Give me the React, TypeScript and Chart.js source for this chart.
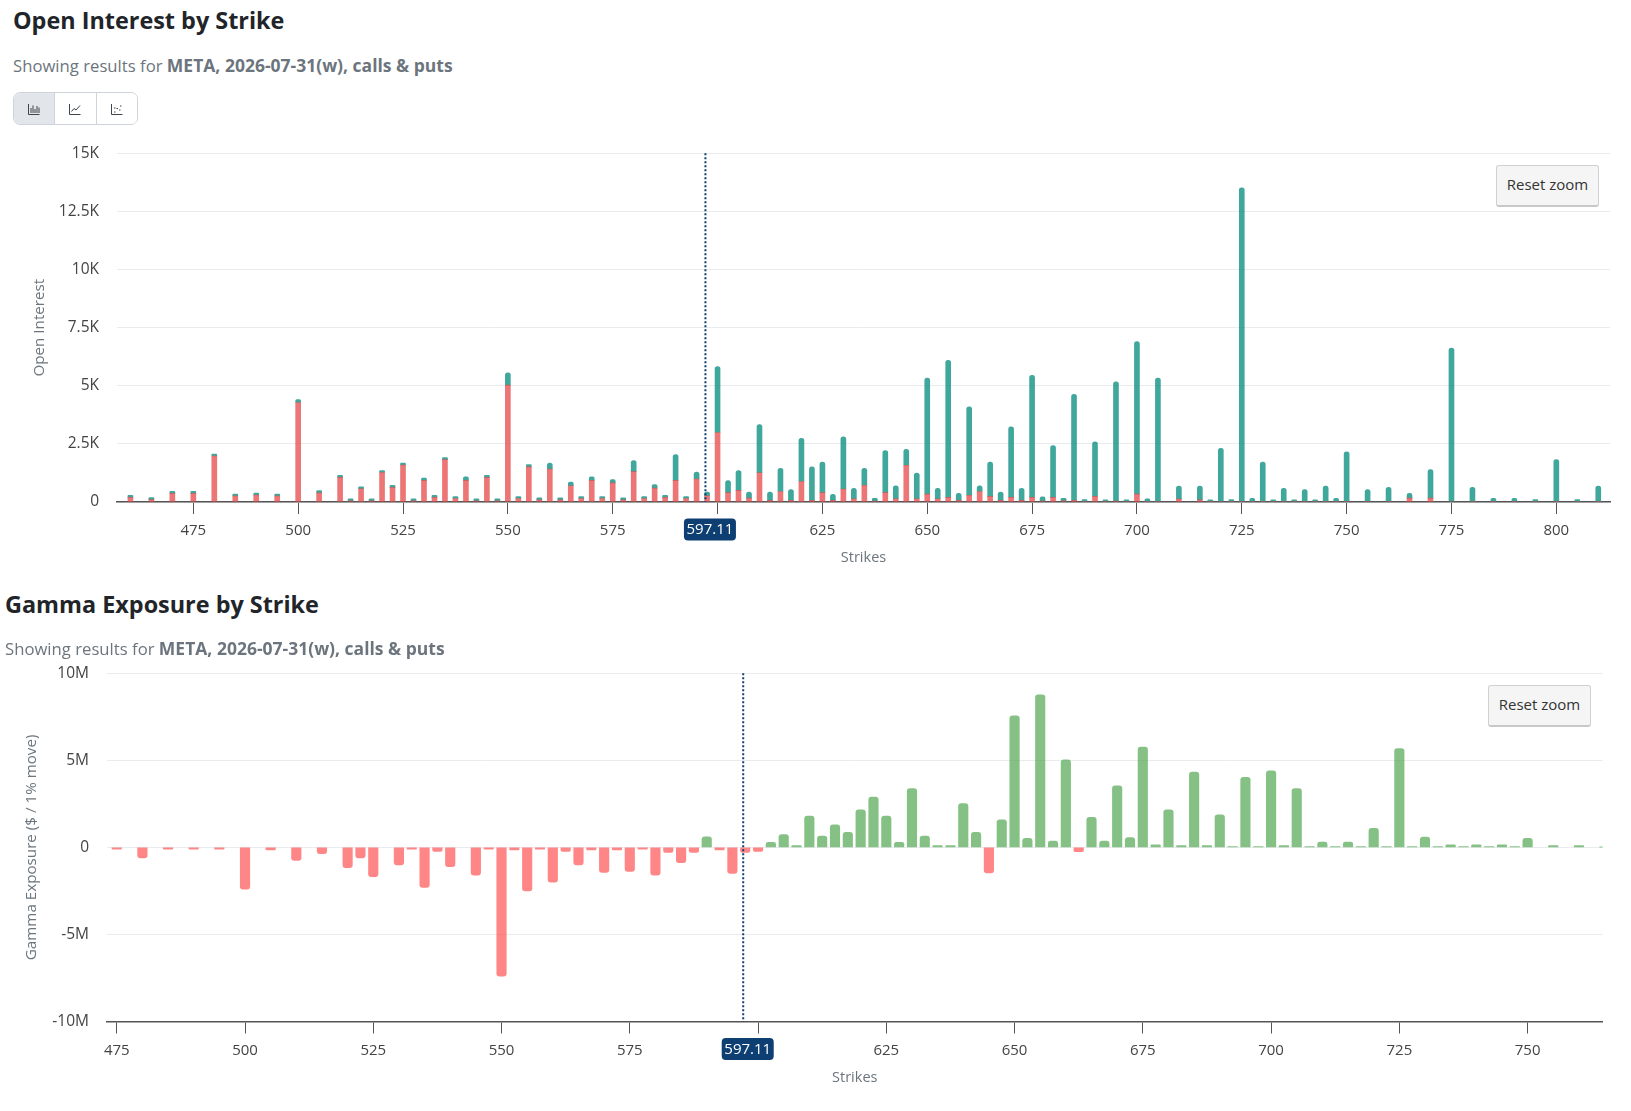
import React, { useEffect, useRef } from 'react';
import { Chart, registerables } from 'chart.js';

Chart.register(...registerables);

const FONT = '"Open Sans", sans-serif';
const spotPrice = 597.11;

// open interest chart
const oiStrikes = [
  460, 465, 470, 475, 480, 485, 490, 495, 500, 505,
  510, 512.5, 515, 517.5, 520, 522.5, 525, 527.5, 530, 532.5,
  535, 537.5, 540, 542.5, 545, 547.5, 550, 552.5, 555, 557.5,
  560, 562.5, 565, 567.5, 570, 572.5, 575, 577.5, 580, 582.5,
  585, 587.5, 590, 592.5, 595, 597.5, 600, 602.5, 605, 607.5,
  610, 612.5, 615, 617.5, 620, 622.5, 625, 627.5, 630, 632.5,
  635, 637.5, 640, 642.5, 645, 647.5, 650, 652.5, 655, 657.5,
  660, 662.5, 665, 667.5, 670, 672.5, 675, 677.5, 680, 682.5,
  685, 687.5, 690, 692.5, 695, 697.5, 700, 702.5, 705, 710,
  715, 717.5, 720, 722.5, 725, 727.5, 730, 732.5, 735, 737.5,
  740, 742.5, 745, 747.5, 750, 755, 760, 765, 770, 775,
  780, 785, 790, 795, 800, 805, 810,
];
const oiPuts = [
  200, 100, 370, 370, 1980, 260, 300, 260, 4280, 390,
  1060, 50, 570, 50, 1270, 630, 1590, 50, 930, 200,
  1820, 150, 930, 50, 1060, 50, 5030, 150, 1510, 90,
  1420, 90, 700, 150, 930, 150, 820, 90, 1310, 150,
  600, 200, 930, 150, 990, 270, 2990, 400, 500, 170,
  1260, 70, 450, 70, 880, 70, 400, 70, 560, 140,
  720, 40, 400, 140, 1580, 140, 340, 140, 200, 70,
  290, 450, 240, 70, 200, 70, 200, 40, 200, 50,
  70, 10, 240, 10, 40, 10, 340, 10, 30, 130,
  90, 10, 20, 10, 30, 10, 10, 10, 10, 10,
  10, 10, 10, 10, 10, 10, 10, 170, 170, 20,
  10, 10, 10, 10, 10, 10, 10,
];
const oiCalls = [
  20, 10, 20, 20, 20, 10, 20, 10, 130, 100,
  20, 10, 20, 10, 20, 20, 20, 10, 100, 20,
  20, 10, 150, 10, 20, 10, 530, 10, 100, 10,
  250, 10, 160, 10, 150, 10, 140, 10, 470, 10,
  150, 20, 1110, 10, 300, 160, 2830, 520, 850, 260,
  2070, 360, 1000, 460, 1860, 1440, 1320, 260, 2240, 450,
  730, 120, 1810, 560, 690, 1100, 4990, 450, 5890, 300,
  3800, 250, 1480, 360, 3030, 520, 5250, 180, 2230, 110,
  4560, 90, 2350, 30, 5130, 30, 6560, 130, 5300, 560,
  600, 50, 2290, 90, 13490, 150, 1710, 50, 580, 50,
  520, 50, 680, 150, 2150, 520, 620, 200, 1220, 6600,
  620, 150, 150, 90, 1810, 90, 680,
];
const oiTicks = [475, 500, 525, 550, 575, 600, 625, 650, 675, 700, 725, 750, 775, 800];

// gamma exposure chart, values in millions
const gexStrikes = [
  475, 480, 485, 490, 495, 500, 505, 510, 515, 520,
  522.5, 525, 530, 532.5, 535, 537.5, 540, 545, 547.5, 550,
  552.5, 555, 557.5, 560, 562.5, 565, 567.5, 570, 572.5, 575,
  577.5, 580, 582.5, 585, 587.5, 590, 592.5, 595, 597.5, 600,
  602.5, 605, 607.5, 610, 612.5, 615, 617.5, 620, 622.5, 625,
  627.5, 630, 632.5, 635, 637.5, 640, 642.5, 645, 647.5, 650,
  652.5, 655, 657.5, 660, 662.5, 665, 667.5, 670, 672.5, 675,
  677.5, 680, 682.5, 685, 687.5, 690, 692.5, 695, 697.5, 700,
  702.5, 705, 707.5, 710, 712.5, 715, 717.5, 720, 722.5, 725,
  727.5, 730, 732.5, 735, 737.5, 740, 742.5, 745, 747.5, 750,
  755, 760, 765,
];
const gexValues = [
  -0.1, -0.6, -0.1, -0.1, -0.1, -2.4, -0.15, -0.75, -0.36, -1.17,
  -0.6, -1.68, -1.0, -0.1, -2.3, -0.23, -1.1, -1.6, -0.1, -7.4,
  -0.15, -2.5, -0.1, -2.0, -0.23, -1.0, -0.15, -1.43, -0.15, -1.38,
  -0.1, -1.6, -0.29, -0.88, -0.29, 0.6, -0.15, -1.5, -0.29, -0.23,
  0.29, 0.73, 0.1, 1.8, 0.65, 1.3, 0.86, 2.16, 2.89, 1.8,
  0.29, 3.38, 0.65, 0.1, 0.1, 2.52, 0.86, -1.47, 1.59, 7.55,
  0.52, 8.76, 0.36, 5.03, -0.25, 1.72, 0.36, 3.54, 0.57, 5.76,
  0.15, 2.16, 0.1, 4.32, 0.1, 1.87, 0.04, 4.03, 0.04, 4.4,
  0.1, 3.38, 0.04, 0.31, 0.04, 0.31, 0.04, 1.09, 0.04, 5.68,
  0.04, 0.59, 0.04, 0.15, 0.04, 0.15, 0.04, 0.15, 0.04, 0.52,
  0.1, 0.1, 0.02,
];
const gexTicks = [475, 500, 525, 550, 575, 600, 625, 650, 675, 700, 725, 750];

// dotted spot line with its badge under the axis
const spotPlugin = {
  id: 'spotLine',
  afterDatasetsDraw(chart: any) {
    const { ctx, chartArea, scales } = chart;
    const x = scales.x.getPixelForValue(spotPrice);
    ctx.save();
    ctx.strokeStyle = '#0d3f73';
    ctx.lineWidth = 2;
    ctx.setLineDash([2, 2]);
    ctx.beginPath();
    ctx.moveTo(x, chartArea.top);
    ctx.lineTo(x, chartArea.bottom);
    ctx.stroke();
    ctx.setLineDash([]);
    ctx.fillStyle = '#0d3f73';
    ctx.beginPath();
    ctx.roundRect(x - 21.5, chartArea.bottom + 16.5, 52, 22, 4);
    ctx.fill();
    ctx.fillStyle = '#ffffff';
    ctx.font = `15px ${FONT}`;
    ctx.textAlign = 'center';
    ctx.textBaseline = 'middle';
    ctx.fillText(String(spotPrice), x + 4.5, chartArea.bottom + 28);
    ctx.restore();
  },
};

const xTickFont = { family: FONT, size: 15 };
const yTickFont = { family: FONT, size: 15.5 };
const titleFont = { family: FONT, size: 14.5 };
const yTitleFont = { family: FONT, size: 15.2 };

function xAxis(min: number, max: number, ticks: number[], height: number, titleBottom: number) {
  return {
    type: 'linear',
    stacked: true,
    offset: false,
    min,
    max,
    afterBuildTicks: (scale: any) => {
      scale.ticks = ticks.map(value => ({ value }));
    },
    afterFit: (scale: any) => {
      scale.height = height;
    },
    grid: { offset: false, drawOnChartArea: false, color: '#555', tickLength: 12, tickColor: '#555' },
    border: { color: '#555', width: 1.5 },
    ticks: {
      color: '#444',
      font: xTickFont,
      padding: 8,
      autoSkip: false,
      maxRotation: 0,
      callback: (v: any) => (v === 600 ? '' : String(v)),
    },
    title: { display: true, text: 'Strikes', color: '#6c757d', font: titleFont, padding: { top: 0, bottom: titleBottom } },
  };
}

function yAxis(min: number, max: number, step: number, width: number, label: string, titleTop: number, fmt: (v: number) => string, stacked: boolean) {
  return {
    stacked,
    min,
    max,
    afterFit: (scale: any) => {
      scale.width = width;
    },
    grid: { color: '#e9ecef', drawTicks: false },
    border: { display: false },
    ticks: { stepSize: step, color: '#444', font: yTickFont, padding: 18, callback: (v: any) => fmt(Number(v)) },
    title: { display: true, text: label, color: '#6c757d', font: yTitleFont, padding: { top: titleTop, bottom: 0 } },
  };
}

const IconBars = () => (
  <svg width="12" height="12" viewBox="0 0 12 12" fill="none" stroke="#3d444b" strokeWidth="1">
    <path d="M0.5 1v10.5h11M3 10V5M5 10V2.5M7 10V6M9 10V3M11 10V4.5" />
  </svg>
);
const IconLine = () => (
  <svg width="12" height="12" viewBox="0 0 12 12" fill="none" stroke="#3d444b" strokeWidth="1">
    <path d="M0.5 1v10.5h11M2.5 8.5L5 5.5l2 1.5L11 2.5" />
  </svg>
);
const IconDots = () => (
  <svg width="12" height="12" viewBox="0 0 12 12" fill="none" stroke="#3d444b" strokeWidth="1">
    <path d="M0.5 1v10.5h11M3 9h1.5M5.5 5.5h1.5M8 7h1.5M9 3h1.5M3 5h1.5" />
  </svg>
);

const h2Style = (left: number, top: number): React.CSSProperties => ({
  position: 'absolute', left, top, margin: 0, font: `700 23.4px/32px ${FONT}`, color: '#212529', whiteSpace: 'nowrap',
});
const subStyle = (left: number, top: number): React.CSSProperties => ({
  position: 'absolute', left, top, margin: 0, font: `400 16.7px/24px ${FONT}`, color: '#6c757d', whiteSpace: 'nowrap',
});
const resetStyle = (left: number, top: number): React.CSSProperties => ({
  position: 'absolute', left, top, width: 103, height: 42, padding: '0 0 4px', background: '#f5f5f5', border: '1px solid #d0d0d0',
  borderBottom: '2px solid #c8c8c8', borderRadius: 3, font: `400 15px ${FONT}`, color: '#333',
});
const segStyle = (active: boolean, last: boolean): React.CSSProperties => ({
  width: 41, height: '100%', display: 'flex', alignItems: 'center', justifyContent: 'center',
  background: active ? '#e2e5e9' : '#fff', borderRight: last ? 'none' : '1px solid #ced4da',
});
const boldStyle: React.CSSProperties = { fontSize: 17.5 };

const App: React.FC = () => {
  const oiRef = useRef<HTMLCanvasElement>(null);
  const gexRef = useRef<HTMLCanvasElement>(null);

  useEffect(() => {
    const oiChart = new Chart(oiRef.current!, {
      type: 'bar',
      data: {
        datasets: [
          {
            label: 'Puts',
            data: oiStrikes.map((x, i) => ({ x, y: oiPuts[i] })),
            backgroundColor: 'rgba(229, 72, 72, 0.75)',
            barThickness: 5,
            borderRadius: 0,
            borderSkipped: false,
          },
          {
            label: 'Calls',
            data: oiStrikes.map((x, i) => ({ x, y: oiCalls[i] })),
            backgroundColor: 'rgba(0, 137, 123, 0.75)',
            barThickness: 5,
            minBarLength: 2,
            borderRadius: { topLeft: 2.5, topRight: 2.5 },
            borderSkipped: false,
          },
        ],
      },
      options: {
        responsive: false,
        animation: false,
        layout: { padding: { top: 0, right: 21 } },
        plugins: { legend: { display: false }, tooltip: { enabled: false } },
        scales: {
          x: xAxis(456.8, 812.8, oiTicks, 78, 13),
          y: yAxis(0, 15000, 2500, 117, 'Open Interest', 31, v => (v === 0 ? '0' : `${v / 1000}K`), true),
        },
      } as any,
      plugins: [spotPlugin],
    });

    const gexChart = new Chart(gexRef.current!, {
      type: 'bar',
      data: {
        datasets: [
          {
            label: 'Gamma Exposure',
            data: gexStrikes.map((x, i) => ({ x, y: gexValues[i] })),
            backgroundColor: (c: any) => (gexValues[c.dataIndex] < 0 ? 'rgba(255, 82, 82, 0.7)' : 'rgba(81, 166, 81, 0.7)'),
            barThickness: 9.5,
            borderRadius: 3,
          },
        ],
      },
      options: {
        responsive: false,
        animation: false,
        layout: { padding: { top: 0, right: 28.5 } },
        plugins: { legend: { display: false }, tooltip: { enabled: false } },
        scales: {
          x: xAxis(473.1, 764.6, gexTicks, 78.5, 13),
          y: yAxis(-10, 10, 5, 107, 'Gamma Exposure ($ / 1% move)', 23, v => (v === 0 ? '0' : `${v}M`), false),
        },
      } as any,
      plugins: [spotPlugin],
    });

    return () => {
      oiChart.destroy();
      gexChart.destroy();
    };
  }, []);

  return (
    <div style={{ position: 'absolute', left: 0, top: 0, width: 1631, height: 1111, overflow: 'hidden', background: '#fff' }}>
      <canvas ref={oiRef} width={1631} height={454} style={{ position: 'absolute', left: 0, top: 126 }} />
      <canvas ref={gexRef} width={1631} height={454} style={{ position: 'absolute', left: 0, top: 646 }} />

      <h2 style={h2Style(13, 4)}>Open Interest by Strike</h2>
      <p style={subStyle(13, 53)}>Showing results for <b style={boldStyle}>META, 2026-07-31(w), calls &amp; puts</b></p>
      <div style={{ position: 'absolute', left: 13, top: 92, width: 125, height: 33, display: 'flex', border: '1px solid #ced4da', borderRadius: 7, overflow: 'hidden', boxSizing: 'border-box' }}>
        <div style={segStyle(true, false)}><IconBars /></div>
        <div style={segStyle(false, false)}><IconLine /></div>
        <div style={segStyle(false, true)}><IconDots /></div>
      </div>
      <button style={resetStyle(1496, 165)}>Reset zoom</button>

      <h2 style={h2Style(5, 588)}>Gamma Exposure by Strike</h2>
      <p style={subStyle(5, 636)}>Showing results for <b style={boldStyle}>META, 2026-07-31(w), calls &amp; puts</b></p>
      <button style={resetStyle(1488, 685)}>Reset zoom</button>
    </div>
  );
};

export default App;
